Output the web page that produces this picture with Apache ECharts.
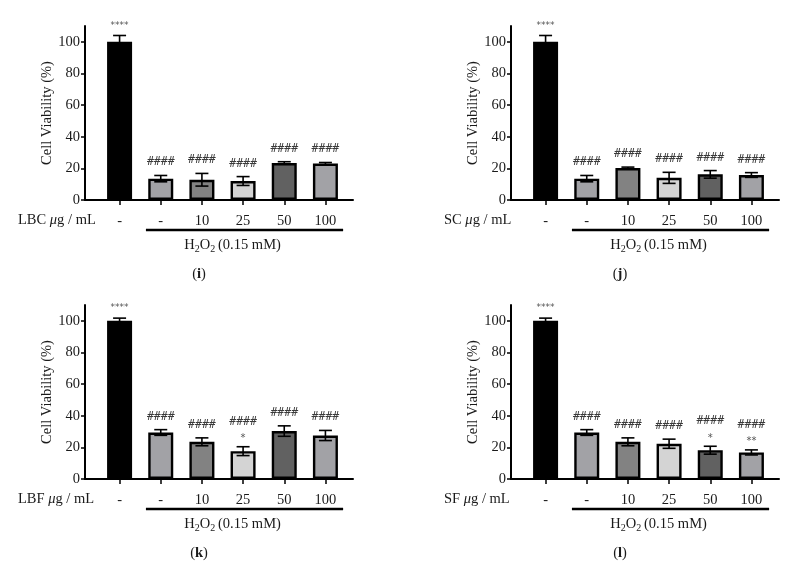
<!DOCTYPE html>
<html><head><meta charset="utf-8">
<script src="https://cdn.jsdelivr.net/npm/echarts@6/dist/echarts.min.js"></script>
<style>html,body{margin:0;padding:0;background:#fff}#c{width:793px;height:567px}</style>
</head><body><div id="c"></div>
<script>
// ---- data ----
const categories = ['-', '-', '10', '25', '50', '100'];
const extractNames = ['LBC', 'SC', 'LBF', 'SF'];
const captions = ['i', 'j', 'k', 'l'];
const yTicks = [0, 20, 40, 60, 80, 100];

const meanI = [100, 13.5, 12.8, 12.0, 23.4, 23.0];
const sdI   = [4.0, 2.0, 4.0, 2.8, 0.8, 0.7];
const meanJ = [100, 13.5, 20.2, 14.0, 16.2, 15.8];
const sdJ   = [4.0, 2.0, 0.6, 3.5, 2.4, 1.5];
const meanK = [100, 29.4, 23.5, 17.6, 30.3, 27.5];
const sdK   = [1.7, 1.8, 2.5, 2.8, 3.3, 3.2];
const meanL = [100, 29.4, 23.5, 22.3, 18.2, 16.8];
const sdL   = [1.7, 1.8, 2.5, 2.9, 2.5, 1.6];

const topMarks = ['****', '####', '####', '####', '####', '####'];
const starsI = ['', '', '', '', '', ''];
const starsJ = ['', '', '', '', '', ''];
const starsK = ['', '', '', '*', '', ''];
const starsL = ['', '', '', '', '*', '**'];

const barColors = ['#000000', '#a2a2a6', '#828282', '#d4d4d4', '#616161', '#a2a2a6'];

const panels = [
  { mean: meanI, sd: sdI, stars: starsI },
  { mean: meanJ, sd: sdJ, stars: starsJ },
  { mean: meanK, sd: sdK, stars: starsK },
  { mean: meanL, sd: sdL, stars: starsL }
];

// ---- layout ----
const layout = [
  { left: 85, top: 26, capX: 199 },
  { left: 511, top: 26, capX: 620 },
  { left: 85, top: 305, capX: 199 },
  { left: 511, top: 305, capX: 620 }
];
const GW = 268, GH = 174;
const SERIF = '"Liberation Serif", "DejaVu Serif", serif';
const TXT = '#1a1a1a';

const chart = echarts.init(document.getElementById('c'), null, { renderer: 'canvas' });

const grid = [], xAxis = [], yAxis = [], series = [];
panels.forEach((p, k) => {
  const L = layout[k];
  grid.push({ left: L.left, top: L.top, width: GW, height: GH, containLabel: false });
  xAxis.push({
    type: 'value', gridIndex: k, min: -0.84, max: 5.67,
    splitLine: { show: false },
    axisLine: { show: true, onZero: false, lineStyle: { color: '#000', width: 2 } },
    axisTick: { show: true, customValues: [0, 1, 2, 3, 4, 5], length: 5, lineStyle: { color: '#000', width: 1.5 } },
    axisLabel: { customValues: [0, 1, 2, 3, 4, 5], margin: 14, formatter: v => categories[Math.round(v)],
      fontFamily: SERIF, fontSize: 14.5, color: TXT }
  });
  yAxis.push({
    type: 'value', gridIndex: k, min: 0, max: 110,
    splitLine: { show: false },
    axisLine: { show: true, onZero: false, lineStyle: { color: '#000', width: 2 } },
    axisTick: { show: true, customValues: yTicks, length: 4, lineStyle: { color: '#000', width: 1.5 } },
    axisLabel: { customValues: yTicks, margin: 5, fontFamily: SERIF, fontSize: 14.5, color: TXT },
    name: 'Cell Viability (%)', nameLocation: 'middle', nameGap: 29,
    nameTextStyle: { fontFamily: SERIF, fontSize: 14.5, color: TXT }
  });
  series.push({
    type: 'bar', xAxisIndex: k, yAxisIndex: k, barWidth: 25,
    data: p.mean.map((v, i) => ({ value: [i, v], itemStyle: { color: barColors[i] } })),
    itemStyle: { borderColor: '#000', borderWidth: 2.4 },
    emphasis: { disabled: true }, animation: false
  });
  series.push({
    type: 'custom', xAxisIndex: k, yAxisIndex: k, z: 5, animation: false, clip: false,
    data: p.mean.map((v, i) => [i, v, p.sd[i]]),
    encode: { x: 0, y: 1 },
    renderItem: (params, api) => {
      const i = params.dataIndex;
      const x = api.value(0), m = api.value(1), s = api.value(2);
      const top = api.coord([x, m + s]);
      const bot = api.coord([x, m - s]);
      const hw = 6.5;
      const ls = { stroke: '#000', lineWidth: 1.6 };
      const children = [
        { type: 'line', shape: { x1: top[0], y1: top[1], x2: bot[0], y2: bot[1] }, style: ls },
        { type: 'line', shape: { x1: top[0] - hw, y1: top[1], x2: top[0] + hw, y2: top[1] }, style: ls },
        { type: 'line', shape: { x1: bot[0] - hw, y1: bot[1], x2: bot[0] + hw, y2: bot[1] }, style: ls }
      ];
      const star = p.stars[i];
      const mark = topMarks[i];
      const isStar = mark === '****';
      const markY = isStar ? top[1] - 10 : (star ? top[1] - 25 : top[1] - 13);
      children.push({ type: 'text', style: { text: mark, x: top[0], y: markY,
        align: 'center', verticalAlign: 'middle', fill: isStar ? '#555' : '#3a3a3a',
        font: isStar ? '9px "DejaVu Sans", sans-serif' : '11.5px "DejaVu Sans Mono", monospace' } });
      if (star) {
        children.push({ type: 'text', style: { text: star, x: top[0], y: top[1] - 8,
          align: 'center', verticalAlign: 'middle', fill: '#555', font: '10px "DejaVu Sans", sans-serif' } });
      }
      return { type: 'group', children };
    }
  });
});

chart.setOption({ animation: false, backgroundColor: '#fff', grid, xAxis, yAxis, series });

// ---- annotations (placed from axis scales) ----
const graphic = [];
panels.forEach((p, k) => {
  const L = layout[k];
  const zero = chart.convertToPixel({ gridIndex: k }, [0, 0]);
  const a = chart.convertToPixel({ gridIndex: k }, [0.64, 0]);
  const b = chart.convertToPixel({ gridIndex: k }, [5.43, 0]);
  const y0 = zero[1];
  graphic.push({
    type: 'text', left: L.left - 67, top: y0 + 13,
    style: { text: '{n|' + extractNames[k] + ' }{i|μ}{n|g / mL}',
      rich: { n: { fontFamily: SERIF, fontSize: 14.5, fill: TXT }, i: { fontFamily: SERIF, fontStyle: 'italic', fontSize: 14.5, fill: TXT } } }
  });
  graphic.push({ type: 'line', shape: { x1: a[0], y1: y0 + 30, x2: b[0], y2: y0 + 30 }, style: { stroke: '#000', lineWidth: 2.6 } });
  graphic.push({
    type: 'text', x: (a[0] + b[0]) / 2 - 12, y: y0 + 45,
    style: { text: '{n|H}{s|2}{n|O}{s|2}{n|\u2009(0.15 mM)}', align: 'center', verticalAlign: 'middle',
      rich: { n: { fontFamily: SERIF, fontSize: 14.5, fill: TXT, lineHeight: 18 },
              s: { fontFamily: SERIF, fontSize: 10, fill: TXT, lineHeight: 18, verticalAlign: 'bottom', padding: [7, 0, 0, 0] } } }
  });
  graphic.push({
    type: 'text', x: L.capX, y: y0 + 74,
    style: { text: '{n|(}{b|' + captions[k] + '}{n|)}', align: 'center', verticalAlign: 'middle',
      rich: { n: { fontFamily: SERIF, fontSize: 14.5, fill: TXT }, b: { fontFamily: SERIF, fontSize: 14.5, fontWeight: 'bold', fill: TXT } } }
  });
});
chart.setOption({ graphic });
</script>
</body></html>
